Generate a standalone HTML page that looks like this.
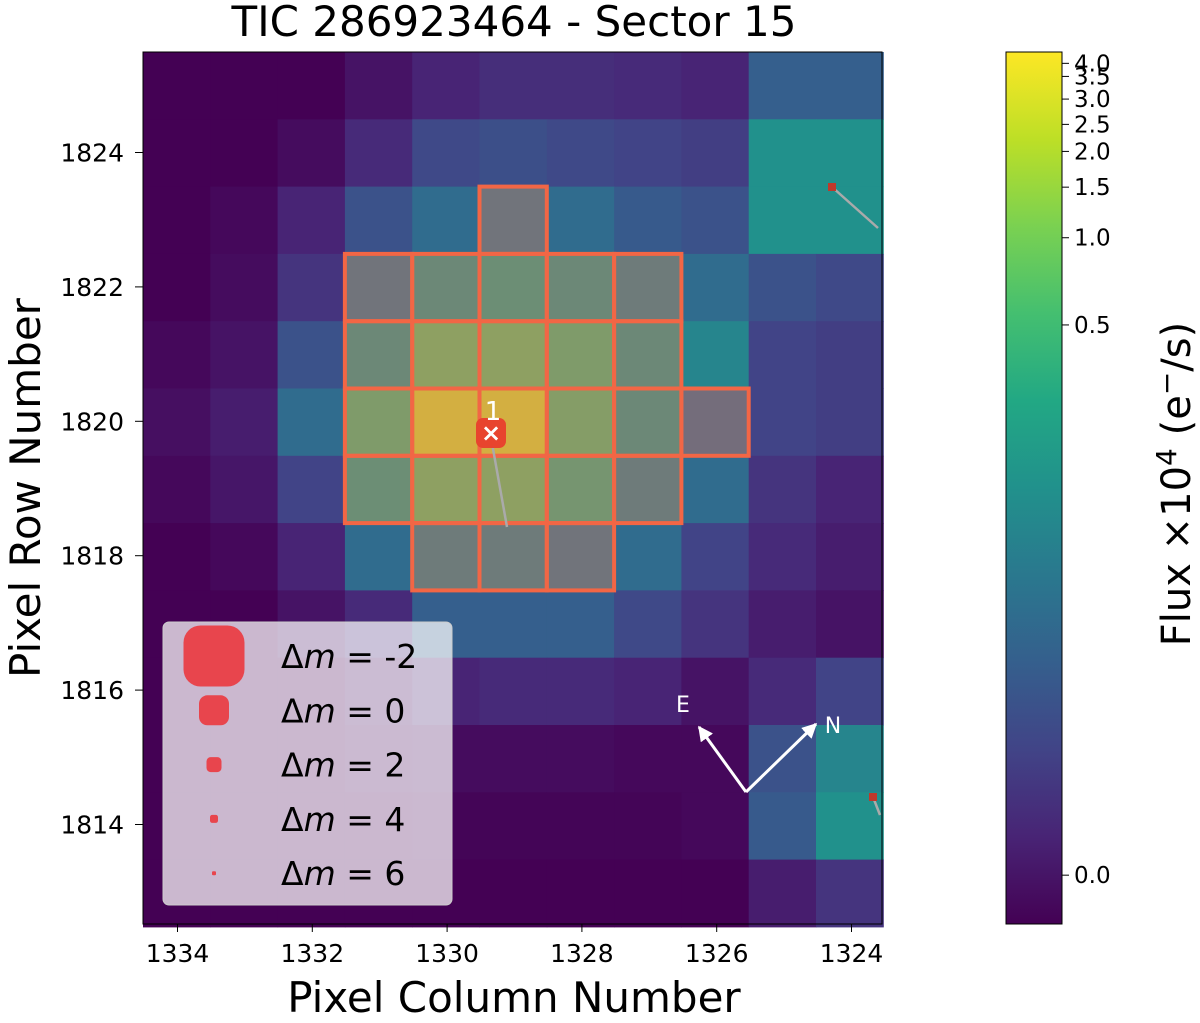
<!DOCTYPE html>
<html><head><meta charset="utf-8"><style>
body{margin:0;background:#fff;}
svg text{font-family:"DejaVu Sans","Liberation Sans",sans-serif;}
</style></head><body>
<svg id="chart" width="1200" height="1018" viewBox="0 0 1200 1018" xmlns="http://www.w3.org/2000/svg">
<defs>
<linearGradient id="vir" x1="0" y1="1" x2="0" y2="0">
<stop offset="0" stop-color="#440154"/><stop offset="0.1" stop-color="#482475"/><stop offset="0.2" stop-color="#414487"/><stop offset="0.3" stop-color="#355f8d"/><stop offset="0.4" stop-color="#2a788e"/><stop offset="0.5" stop-color="#21918c"/><stop offset="0.6" stop-color="#22a884"/><stop offset="0.7" stop-color="#44bf70"/><stop offset="0.8" stop-color="#7ad151"/><stop offset="0.9" stop-color="#bddf26"/><stop offset="1" stop-color="#fde725"/>
</linearGradient>
<marker id="ah" viewBox="0 0 10 10" refX="9" refY="5" markerWidth="5" markerHeight="5" orient="auto"><path d="M0,0L10,5L0,10z" fill="#fff"/></marker>
</defs>
<g id="cells"></g>
<g id="mask"></g>
<g id="overlay"></g>
<text x="514" y="36" font-size="42" text-anchor="middle">TIC 286923464 - Sector 15</text>
<text x="514" y="1012" font-size="42" text-anchor="middle">Pixel Column Number</text>
<text transform="translate(40,488) rotate(-90)" font-size="42" text-anchor="middle">Pixel Row Number</text>
<g id="xt"></g><g id="yt"></g>
<rect x="1006" y="52" width="56" height="872" fill="url(#vir)" stroke="#000" stroke-width="1"/>
<g id="ct"></g>
<text transform="translate(1190,484) rotate(-90)" font-size="40" text-anchor="middle">Flux ×10<tspan dy="-14" font-size="28">4</tspan><tspan dy="14"> (e</tspan><tspan dy="-14" font-size="28">−</tspan><tspan dy="14">/s)</tspan></text>
</svg>
<script>
const rowsTop=52, colLeft=143, cell=67.3;
const colTicks=[1334,1332,1330,1328,1326,1324];
const rowTicks=[1824,1822,1820,1818,1816,1814];
const cbTickLabels=["4.0","3.5","3.0","2.5","2.0","1.5","1.0","0.5","0.0"];
const cbTickFrac=[0.987,0.972,0.946,0.917,0.886,0.845,0.787,0.687,0.056];
const flux=[
[0,0,0,0.05,0.1,0.13,0.13,0.12,0.1,0.3,0.3],
[0,0,0.03,0.12,0.22,0.24,0.22,0.2,0.18,0.5,0.5],
[0,0.02,0.1,0.25,0.35,0.4,0.35,0.28,0.25,0.5,0.5],
[0,0.03,0.15,0.4,0.55,0.6,0.55,0.45,0.35,0.25,0.22],
[0.02,0.05,0.25,0.55,0.75,0.75,0.7,0.55,0.45,0.2,0.18],
[0.04,0.08,0.35,0.7,0.95,0.95,0.72,0.55,0.35,0.2,0.18],
[0.02,0.06,0.2,0.6,0.75,0.75,0.65,0.45,0.35,0.15,0.1],
[0,0.02,0.1,0.35,0.45,0.45,0.4,0.35,0.2,0.12,0.08],
[0,0,0.05,0.12,0.3,0.3,0.3,0.22,0.15,0.08,0.05],
[0,0,0,0.04,0.1,0.12,0.12,0.1,0.05,0.12,0.2],
[0,0,0,0.02,0.03,0.03,0.03,0.02,0.02,0.25,0.45],
[0,0,0,0,0.01,0.01,0.01,0.01,0.02,0.28,0.5],
[0,0,0,0,0,0,0,0,0,0.08,0.15]];
const maskCells=[[2,5],[3,3],[3,4],[3,5],[3,6],[3,7],[4,3],[4,4],[4,5],[4,6],[4,7],[5,3],[5,4],[5,5],[5,6],[5,7],[5,8],[6,3],[6,4],[6,5],[6,6],[6,7],[7,4],[7,5],[7,6]];
const legendDm=[-2,0,2,4,6];
const legendSize=[61,30,15,8,4];
const NS="http://www.w3.org/2000/svg";
const vs=[[68,1,84],[72,36,117],[65,68,135],[53,95,141],[42,120,142],[33,145,140],[34,168,132],[68,191,112],[122,209,81],[189,223,38],[253,231,37]];
function vir(t){t=Math.max(0,Math.min(1,t))*10;const i=Math.min(9,Math.floor(t)),f=t-i;const a=vs[i],b=vs[i+1];return `rgb(${a.map((v,k)=>Math.round(v+(b[k]-v)*f)).join(',')})`;}
function xOf(c){return 177.5+(1334-c)*67.4;}
function yOf(r){return 152.5+(1824-r)*67.2;}
function mk(tag,attrs,parent){const e=document.createElementNS(NS,tag);for(const k in attrs)e.setAttribute(k,attrs[k]);parent.appendChild(e);return e;}
const cg=document.getElementById('cells');
flux.forEach((row,r)=>row.forEach((v,c)=>{const e=mk('rect',{x:colLeft+c*cell,y:rowsTop+r*cell,width:cell+0.5,height:cell+0.5,fill:vir(v)},cg);

}));
const mg=document.getElementById('mask');
maskCells.forEach(([r,c])=>{const e=mk('rect',{x:colLeft+c*cell,y:rowsTop+r*cell,width:cell,height:cell,fill:'rgba(200,110,100,0.45)',stroke:'#f26645','stroke-width':4},mg);

});
const ov=document.getElementById('overlay');
mk('line',{x1:490,y1:432,x2:507,y2:527,stroke:'#aaa','stroke-width':2.5},ov);
mk('line',{x1:832,y1:187,x2:878,y2:228,stroke:'#aaa','stroke-width':2.5},ov);
mk('line',{x1:873,y1:797,x2:880,y2:815,stroke:'#aaa','stroke-width':2.5},ov);
const t=mk('rect',{x:476,y:418,width:30,height:30,rx:7,fill:'#e8442e'},ov);


mk('text',{x:491,y:441,'font-size':24,fill:'#fff','text-anchor':'middle','font-weight':'bold'},ov).textContent='×';
mk('text',{x:493,y:420,'font-size':26,fill:'#fff','text-anchor':'middle'},ov).textContent='1';
const s1=mk('rect',{x:828,y:183,width:8,height:8,fill:'#c0392b'},ov);


const s2=mk('rect',{x:869,y:793,width:8,height:8,fill:'#c0392b'},ov);


mk('rect',{x:143,y:52,width:739,height:872,fill:'none',stroke:'#000','stroke-width':1},ov);
mk('line',{x1:746,y1:792,x2:699,y2:727,stroke:'#fff','stroke-width':3,'marker-end':'url(#ah)'},ov);
mk('line',{x1:746,y1:792,x2:816,y2:724,stroke:'#fff','stroke-width':3,'marker-end':'url(#ah)'},ov);
const ce=mk('text',{x:683,y:712,'font-size':22,fill:'#fff','text-anchor':'middle'},ov);ce.textContent='E';


const cn=mk('text',{x:833,y:733,'font-size':22,fill:'#fff','text-anchor':'middle'},ov);cn.textContent='N';


const lg=mk('g',{},ov);


mk('rect',{x:163,y:622,width:289,height:283,rx:6,fill:'rgba(255,255,255,0.72)',stroke:'#ccc'},lg);
legendDm.forEach((d,i)=>{const cy=656+i*54.3;const s=legendSize[i];
const p=mk('rect',{x:214-s/2,y:cy-s/2,width:s,height:s,rx:s*0.28,fill:'#e8454d'},lg);


const tx=mk('text',{x:281,y:cy+12,'font-size':33,'xml:space':'preserve'},lg);
tx.innerHTML='Δ<tspan font-style="italic">m</tspan> =  '+d;

});
const xt=document.getElementById('xt');
colTicks.forEach(c=>{const x=xOf(c);mk('line',{x1:x,y1:924,x2:x,y2:932,stroke:'#000'},xt);
const e=mk('text',{x:x,y:962,'font-size':25,'text-anchor':'middle'},xt);e.textContent=c;

});
const yt=document.getElementById('yt');
rowTicks.forEach(r=>{const y=yOf(r);mk('line',{x1:135,y1:y,x2:143,y2:y,stroke:'#000'},yt);
const e=mk('text',{x:124,y:y+9,'font-size':25,'text-anchor':'end'},yt);e.textContent=r;

});
const ct=document.getElementById('ct');
cbTickLabels.forEach((l,i)=>{const y=924-cbTickFrac[i]*872;mk('line',{x1:1062,y1:y,x2:1069,y2:y,stroke:'#000'},ct);
const e=mk('text',{x:1074,y:y+8,'font-size':23},ct);e.textContent=l;

});
</script>
</body></html>
